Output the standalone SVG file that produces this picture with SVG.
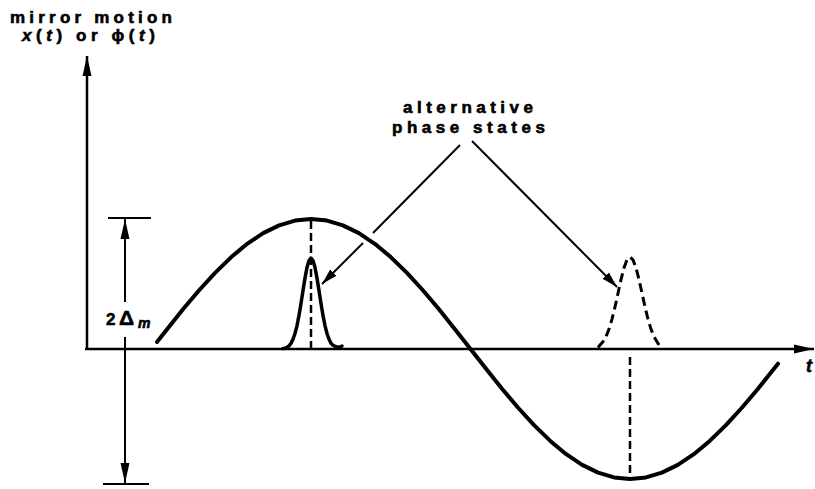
<svg xmlns="http://www.w3.org/2000/svg" width="815" height="489" viewBox="0 0 815 489">
<style>
.lbl{font-family:"Liberation Sans",Arial,sans-serif;font-weight:bold;font-size:17px;fill:#000;stroke:#000;stroke-width:0.6}
.it{font-style:italic}
.ax{stroke:#000;stroke-width:2.5;fill:none}
.thin{stroke:#000;stroke-width:2;fill:none}
.curve{stroke:#000;stroke-width:4;fill:none;stroke-linejoin:round;stroke-linecap:round}
.dash{stroke:#000;stroke-width:2.5;fill:none;stroke-dasharray:8 4}
.gs{stroke:#000;stroke-width:3.5;fill:none;stroke-linejoin:round;stroke-linecap:round}
.gd{stroke:#000;stroke-width:3;fill:none;stroke-dasharray:9 5;stroke-linejoin:round}
</style>
<defs>
<marker id="ah" viewBox="-20 -5 20 10" refX="0" refY="0" markerWidth="20" markerHeight="10" markerUnits="userSpaceOnUse" orient="auto">
<path d="M0,0 L-20,-4.5 L-20,4.5 Z" fill="#000"/>
</marker>
<marker id="ahs" viewBox="-16 -5 16 10" refX="0" refY="0" markerWidth="16" markerHeight="10" markerUnits="userSpaceOnUse" orient="auto">
<path d="M0,0 L-16,-4.5 L-16,4.5 Z" fill="#000"/>
</marker>
</defs>
<rect width="815" height="489" fill="#fff"/>

<g id="axes">
<line class="ax" x1="87" y1="349" x2="87" y2="56" marker-end="url(#ah)"/>
<line class="ax" x1="85" y1="349" x2="814" y2="349" marker-end="url(#ah)"/>
</g>

<g id="dimension">
<line class="thin" x1="108" y1="218" x2="151" y2="218"/>
<line class="thin" x1="103" y1="484" x2="149" y2="484"/>
<line class="thin" x1="125" y1="302" x2="125" y2="219" marker-end="url(#ah)"/>
<line class="thin" x1="125" y1="337" x2="125" y2="483" marker-end="url(#ah)"/>
</g>

<g id="sine">
<path class="curve" d="M157,342 L167.45,328.66 L183.4,308.83 L199.35,289.98 L215.3,272.59 L231.25,257.08 L247.2,243.83 L263.15,233.17 L279.1,225.36 L295.05,220.6 L311,219 L326.95,220.6 L342.9,225.36 L358.85,233.17 L374.8,243.83 L390.75,257.08 L406.7,272.59 L422.65,289.98 L438.6,308.83 L454.55,328.66 L470.5,349 L486.45,369.34 L502.4,389.17 L518.35,408.02 L534.3,425.41 L550.25,440.92 L566.2,454.17 L582.15,464.83 L598.1,472.64 L614.05,477.4 L630,479 L645.95,477.4 L661.9,472.64 L677.85,464.83 L693.8,454.17 L709.75,440.92 L725.7,425.41 L741.65,408.02 L757.6,389.17 L773.55,369.34 L778,363.7"/>
<line class="dash" x1="311" y1="221" x2="311" y2="349"/>
<line class="dash" x1="630" y1="357" x2="630" y2="479"/>
</g>

<g id="state-solid">
<path class="gs" d="M283,348.5 L285,348.2 L287,347.3 L289,345.8 L291,343.3 L293,339.3 L295,333.5 L297,325.6 L299,315.4 L301,303.5 L303,290.6 L305,278.1 L307,267.5 L309,260.5 L311,258 L313,260.5 L315,267.5 L317,278.1 L319,290.6 L321,303.5 L323,315.4 L325,325.6 L327,333.5 L329,339.3 L331,343.3 L333,345.3 L336,346.8 L339,347.3 L342,346"/>
</g>

<g id="state-dashed">
<path class="gd" d="M598,347.5 L600,345 L603,341.7 L606,336.6 L609,329.1 L612,319.1 L615,306.9 L618,293.2 L621,279.6 L624,267.8 L627,259.8 L630,257 L633,259.8 L636,267.8 L639,279.6 L642,293.2 L645,306.9 L648,319.1 L651,329.1 L654,336.6 L657,341.7 L659,345"/>
</g>

<g id="connectors">
<line class="thin" x1="460" y1="145" x2="373" y2="233"/>
<line class="thin" x1="363" y1="243" x2="322" y2="284" marker-end="url(#ahs)"/>
<line class="thin" x1="472" y1="141" x2="617" y2="287" marker-end="url(#ahs)"/>
</g>

<g id="labels">
<text class="lbl" x="10" y="23" textLength="162" lengthAdjust="spacing">mirror motion</text>
<text class="lbl" x="22" y="41" textLength="133" lengthAdjust="spacing"><tspan class="it">x</tspan>(<tspan class="it">t</tspan>) or ϕ(<tspan class="it">t</tspan>)</text>
<text class="lbl" x="403" y="113" textLength="130" lengthAdjust="spacing">alternative</text>
<text class="lbl" x="392" y="133" textLength="153" lengthAdjust="spacing">phase states</text>
<text class="lbl" x="106" y="325">2</text>
<text class="lbl" x="119" y="325" style="font-size:21px">Δ</text>
<text class="lbl it" x="138" y="328" style="font-size:14px">m</text>
<text class="lbl it" x="806" y="372" style="font-size:18px">t</text>
</g>
</svg>
